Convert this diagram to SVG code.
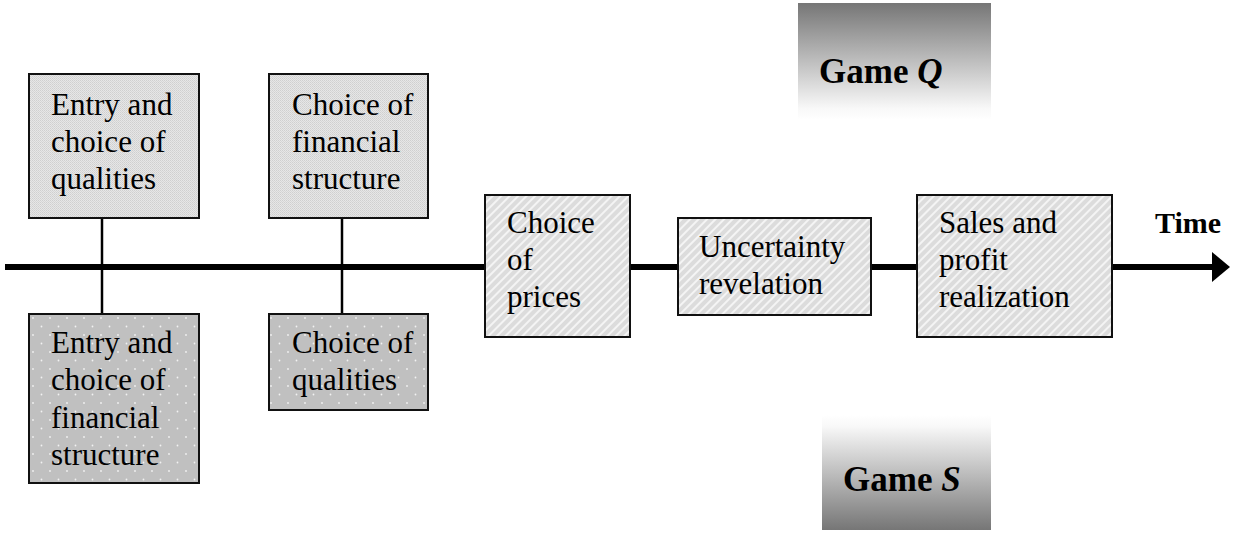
<svg xmlns="http://www.w3.org/2000/svg" width="1254" height="533" viewBox="0 0 1254 533">
<defs>
<pattern id="fine" width="2" height="2" patternUnits="userSpaceOnUse">
<rect width="2" height="2" fill="#e6e6e6"/>
<rect width="1" height="1" fill="#cfcfcf"/>
<rect x="1" y="1" width="1" height="1" fill="#d6d6d6"/>
</pattern>
<pattern id="hatch" width="6" height="6" patternUnits="userSpaceOnUse" patternTransform="rotate(45)">
<rect width="6" height="6" fill="#dcdcdc"/>
<rect width="2" height="6" fill="#f4f4f4"/>
</pattern>
<pattern id="dots" width="17" height="17" patternUnits="userSpaceOnUse" x="29" y="314">
<rect width="17" height="17" fill="#c0c0c0"/>
<circle cx="4" cy="4" r="0.9" fill="#f2f2f2"/>
<circle cx="12.5" cy="12.5" r="0.9" fill="#f2f2f2"/>
</pattern>
<linearGradient id="gq" x1="0" y1="0" x2="0" y2="1">
<stop offset="0" stop-color="#767676"/>
<stop offset="0.9" stop-color="#f8f8f8"/>
<stop offset="1" stop-color="#ffffff"/>
</linearGradient>
<linearGradient id="gs" x1="0" y1="0" x2="0" y2="1">
<stop offset="0" stop-color="#ffffff"/>
<stop offset="0.1" stop-color="#f8f8f8"/>
<stop offset="1" stop-color="#767676"/>
</linearGradient>
<marker id="arrow" markerWidth="3" markerHeight="5" refX="0" refY="2.5" orient="auto" markerUnits="strokeWidth">
<path d="M0,0 L3,2.5 L0,5 Z" fill="#000"/>
</marker>
</defs>
<style>
.box{stroke:#111;stroke-width:2}
.t{font-family:"Liberation Serif","Times New Roman",serif;font-size:31px;fill:#000}
.b{font-family:"Liberation Serif","Times New Roman",serif;font-weight:bold;fill:#000}
.conn{stroke:#000;fill:none}
</style>
<rect width="1254" height="533" fill="#fff"/>
<g id="gameQ">
<rect x="798" y="3" width="193" height="117" fill="url(#gq)"/>
<text class="b" x="819" y="83" font-size="35">Game <tspan font-style="italic">Q</tspan></text>
</g>
<g id="gameS">
<rect x="822" y="415" width="169" height="115" fill="url(#gs)"/>
<text class="b" x="843" y="491" font-size="35">Game <tspan font-style="italic">S</tspan></text>
</g>
<g id="connectors">
<line class="conn" x1="5" y1="267" x2="1212" y2="267" stroke-width="6" marker-end="url(#arrow)"/>
<line class="conn" x1="102" y1="217" x2="102" y2="314" stroke-width="2.5"/>
<line class="conn" x1="342" y1="217" x2="342" y2="314" stroke-width="2.5"/>
</g>
<g id="entryQualities">
<rect class="box" x="29" y="74" width="170" height="144" fill="url(#fine)"/>
<text class="t" x="51"><tspan x="51" y="115">Entry and</tspan><tspan x="51" y="152">choice of</tspan><tspan x="51" y="189">qualities</tspan></text>
</g>
<g id="choiceFinancial">
<rect class="box" x="269" y="74" width="159" height="144" fill="url(#fine)"/>
<text class="t"><tspan x="292" y="115">Choice of</tspan><tspan x="292" y="152">financial</tspan><tspan x="292" y="189">structure</tspan></text>
</g>
<g id="entryFinancial">
<rect class="box" x="29" y="314" width="170" height="169" fill="url(#dots)"/>
<text class="t"><tspan x="51" y="353">Entry and</tspan><tspan x="51" y="390">choice of</tspan><tspan x="51" y="428">financial</tspan><tspan x="51" y="465">structure</tspan></text>
</g>
<g id="choiceQualities">
<rect class="box" x="269" y="314" width="159" height="96" fill="url(#dots)"/>
<text class="t"><tspan x="292" y="353">Choice of</tspan><tspan x="292" y="390">qualities</tspan></text>
</g>
<g id="prices">
<rect class="box" x="485" y="195" width="145" height="142" fill="url(#hatch)"/>
<text class="t"><tspan x="507" y="233">Choice</tspan><tspan x="507" y="270">of</tspan><tspan x="507" y="307">prices</tspan></text>
</g>
<g id="uncertainty">
<rect class="box" x="678" y="218" width="193" height="97" fill="url(#hatch)"/>
<text class="t"><tspan x="699" y="257">Uncertainty</tspan><tspan x="699" y="294">revelation</tspan></text>
</g>
<g id="sales">
<rect class="box" x="917" y="195" width="195" height="142" fill="url(#hatch)"/>
<text class="t"><tspan x="939" y="233">Sales and</tspan><tspan x="939" y="270">profit</tspan><tspan x="939" y="307">realization</tspan></text>
</g>
<g id="time">
<text class="b" x="1155" y="233" font-size="30">Time</text>
</g>
</svg>
